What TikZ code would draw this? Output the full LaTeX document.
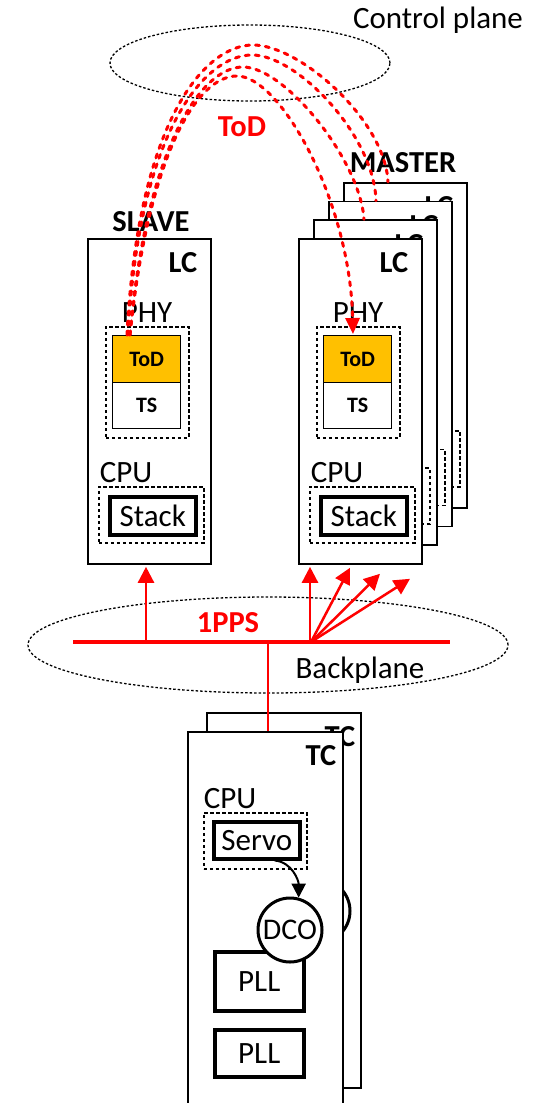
\documentclass[tikz,border=0pt]{standalone}
\usepackage{fontspec}
\setmainfont{Carlito}
\usetikzlibrary{arrows.meta,calc,shapes.geometric}
\definecolor{tred}{HTML}{FF0000}
\definecolor{todorange}{HTML}{FFC000}
\tikzset{
  lbl/.style={font=\fontsize{31}{36}\selectfont, inner sep=0pt},
  blbl/.style={font=\fontsize{30.5}{36}\selectfont\bfseries, inner sep=0pt},
  rlbl/.style={blbl, text=tred},
  card/.style={draw=black, line width=1.8pt, fill=white, anchor=north west, inner sep=0pt},
  dbox/.style={draw=black, line width=1.8pt, dash pattern=on 3.5pt off 2.5pt, anchor=north west, inner sep=0pt},
  cellbox/.style={draw=black, line width=1.4pt, anchor=north west, inner sep=0pt,
    minimum width=68pt, minimum height=47pt, font=\fontsize{22}{26}\selectfont\bfseries},
  thickbox/.style={draw=black, line width=3.5pt, fill=white, anchor=north west, inner sep=0pt,
    font=\fontsize{31}{36}\selectfont},
  planeell/.style={draw=black, ellipse, line width=1.3pt, dash pattern=on 2.5pt off 2pt, inner sep=0pt},
  todarc/.style={draw=tred, line width=3pt, dash pattern=on 4pt off 6pt, line cap=round},
  ppsarrow/.style={draw=tred, line width=2.5pt, -{Triangle[length=16pt,width=16pt]}},
  lccard/.pic={
    \node[card, minimum width=123pt, minimum height=325pt] (-box) at (0,0) {};
    \node[blbl] (-lc) at (96,25) {LC};
    \node[lbl] (-phy) at (60,75) {PHY};
    \node[dbox, minimum width=83pt, minimum height=111pt] (-phybox) at (18,88) {};
    \node[cellbox, fill=todorange] (-tod) at (25,97) {ToD};
    \node[cellbox, minimum height=46pt] (-ts) at (25,144) {TS};
    \node[lbl] (-cpu) at (39,235) {CPU};
    \node[dbox, minimum width=105pt, minimum height=56pt] (-cpubox) at (11,248) {};
    \node[thickbox, minimum width=86pt, minimum height=38pt] (-stack) at (21,257) {Stack};
  },
  lcback/.pic={
    \node[card, minimum width=123pt, minimum height=325pt] (-box) at (0,0) {};
    \node[blbl] (-lc) at (96,25) {LC};
    \node[dbox, minimum width=105pt, minimum height=56pt] (-cpubox) at (11,248) {};
  },
}
\begin{document}
\begin{tikzpicture}[x=1pt,y=-1pt]
\useasboundingbox (0,0) rectangle (535,1103);
\clip (0,0) rectangle (535,1103);

% planes
\node[planeell, minimum width=280pt, minimum height=76pt] (cplane) at (250,63) {};
\node[lbl] (cplabel) at (438,20) {Control plane};
\node[planeell, minimum width=480pt, minimum height=96pt] (bplane) at (268,645) {};
\node[lbl] (bplabel) at (360,670) {Backplane};

% slave
\node[blbl] (slave) at (151,222) {SLAVE};
\pic (s) at (87,238) {lccard};

% master stack (back to front)
\node[blbl] (master) at (403,163) {MASTER};
\pic (m4) at (343,181.9) {lcback};
\pic (m3) at (328,200.6) {lcback};
\pic (m2) at (313,219.3) {lcback};
\pic (m1) at (298,238) {lccard};

% TC stack
\node[card, minimum width=154pt, minimum height=375pt] (tcb) at (206,712) {};
\node[blbl] (tcblbl) at (340,737) {TC};
\node[circle, draw=black, line width=3pt, fill=white, minimum size=64pt, inner sep=0pt] (dcob) at (318,911) {};
\node[card, minimum width=155pt, minimum height=380pt] (tcf) at (187,731) {};
\node[blbl] (tcflbl) at (321,756) {TC};
\node[lbl] (tccpu) at (230,799) {CPU};
\node[dbox, minimum width=103pt, minimum height=56pt] (tccpubox) at (203,812) {};
\node[thickbox, minimum width=86pt, minimum height=37pt] (servo) at (212,820) {Servo};
\node[thickbox, minimum width=89pt, minimum height=59pt] (pll1) at (213,950) {PLL};
\node[thickbox, minimum width=89pt, minimum height=47pt] (pll2) at (213,1028) {PLL};
\node[circle, draw=black, line width=3pt, fill=white, minimum size=64pt, inner sep=0pt,
  font=\fontsize{30}{36}\selectfont] (dco) at (290,930) {DCO};
\draw[line width=2pt, -{Triangle[length=14pt,width=14pt]}]
  ([xshift=18pt]servo.south) to[out=-5,in=90] (dco.75);

% 1PPS bus
\coordinate (busL) at (73,642);
\coordinate (busR) at (450,642);
\draw[tred, line width=3.5pt] (busL) -- (busR);
\node[rlbl] (pps) at (228,623) {1PPS};
\coordinate (bs) at (146,642);
\coordinate (bm) at (311,642);
\coordinate (btc) at (268,644);
\coordinate (tctop) at ($(tcf.north west)+(81,0)$);
\draw[tred, line width=2.2pt] (btc) -- (tctop);
\draw[ppsarrow] (bs) -- ($(s-box.south west)+(59,2)$);
\coordinate (t1) at ($(m1-box.south west)+(12,2)$);
\coordinate (t2) at ($(m1-box.south west)+(52,3)$);
\coordinate (t3) at ($(m1-box.south west)+(82,9)$);
\coordinate (t4) at ($(m1-box.south west)+(112,14)$);
\draw[ppsarrow] ([xshift=-1pt]bm) -- (t1);
\draw[ppsarrow] (bm) -- (t2);
\draw[ppsarrow] (bm) -- (t3);
\draw[ppsarrow] (bm) -- (t4);

% ToD arcs
\node[rlbl] (todlbl) at (242,127) {ToD};
\coordinate (a4s) at ($(s-tod.north west)+(15,0)$);
\coordinate (a3s) at ($(s-tod.north west)+(16,0)$);
\coordinate (a2s) at ($(s-tod.north west)+(18,0)$);
\coordinate (a1s) at ($(s-tod.north west)+(18,0)$);
\coordinate (a4e) at ($(m4-box.north west)+(45,0)$);
\coordinate (a3e) at ($(m3-box.north west)+(48,0)$);
\coordinate (a2e) at ($(m2-box.north west)+(51,0)$);
\coordinate (a1e) at ($(m1-tod.north west)+(30,-1)$);
\draw[todarc] (a4s) .. controls (138,120) and (205,45) .. (253,45)
  .. controls (300,45) and (385,120) .. (a4e);
\draw[todarc] (a3s) .. controls (139,130) and (205,55) .. (252,55)
  .. controls (297,55) and (374,135) .. (a3e);
\draw[todarc] (a2s) .. controls (146,150) and (200,67) .. (243,67)
  .. controls (285,67) and (360,160) .. (a2e);
\draw[todarc, -{Triangle[length=16pt,width=14pt]}] (a1s) .. controls (148,160) and (195,76) .. (237,76)
  .. controls (280,76) and (350,200) .. (a1e);
\end{tikzpicture}
\end{document}
